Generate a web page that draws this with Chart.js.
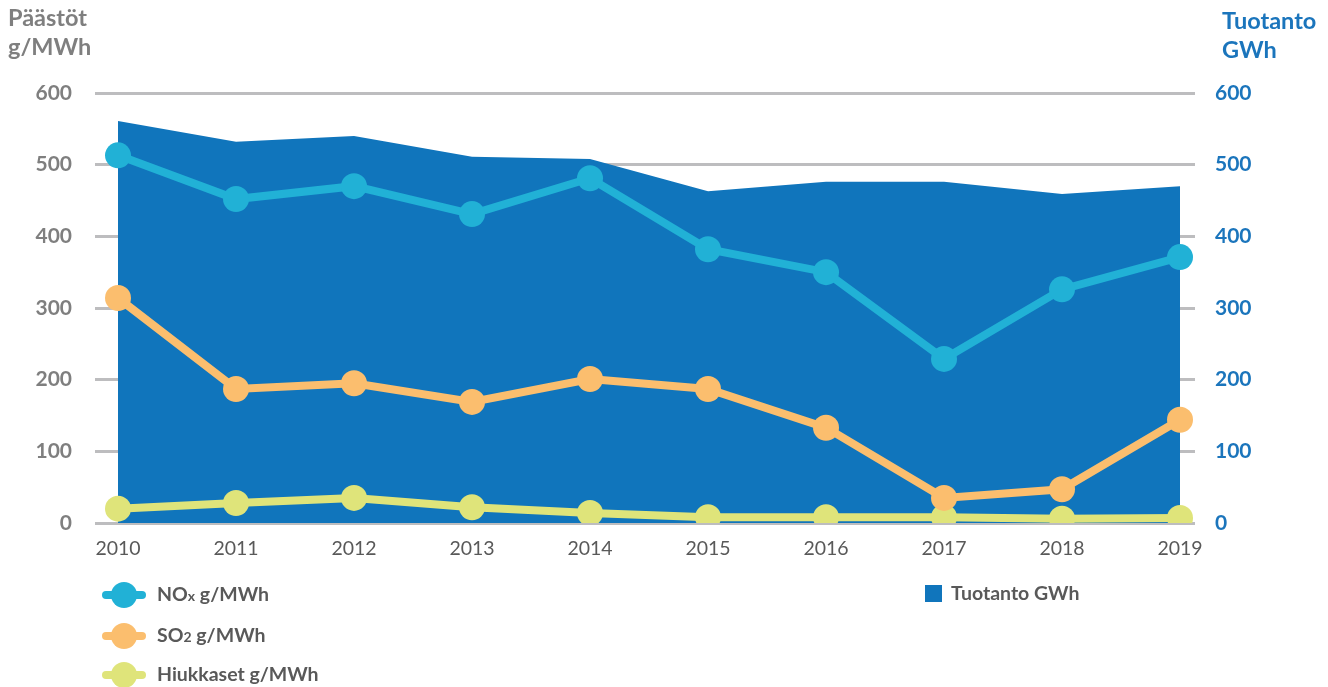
<!DOCTYPE html>
<html>
<head>
<meta charset="utf-8">
<script src="https://cdn.jsdelivr.net/npm/chart.js@4.4.0/dist/chart.umd.min.js"></script>
<style>
  html, body { margin: 0; padding: 0; background: #ffffff; }
  body { width: 1328px; height: 687px; position: relative; overflow: hidden; font-family: Lato, "Open Sans", sans-serif; }
  #c { position: absolute; left: 0; top: 0; }
  .ttl { position: absolute; font-weight: bold; font-size: 23.5px; line-height: 29px; }
  .leg { position: absolute; font-weight: bold; font-size: 19.5px; color: #595959; white-space: nowrap; }
  .leg small { font-size: 14px; }
  .ico { position: absolute; width: 44px; height: 26px; }
  .ico .ln { position: absolute; left: 0; top: 9px; width: 44px; height: 8px; border-radius: 4px; }
  .ico .dot { position: absolute; left: 9px; top: 0; width: 26px; height: 26px; border-radius: 50%; }
  .sq { position: absolute; width: 17px; height: 17px; background: #1075bc; }
</style>
</head>
<body>
<canvas id="c" width="1328" height="687"></canvas>
<div class="ttl" style="left:8px; top:3px; color:#7f7f7f;">Päästöt<br>g/MWh</div>
<div class="ttl" style="left:1222px; top:6px; color:#1b75bc;">Tuotanto<br>GWh</div>

<div class="ico" style="left:102px; top:582px;"><div class="ln" style="background:#21b1d6"></div><div class="dot" style="background:#21b1d6"></div></div>
<div class="leg" style="left:157px; top:582px;">NO<small>x</small> g/MWh</div>
<div class="ico" style="left:102px; top:623px;"><div class="ln" style="background:#fbbe6e"></div><div class="dot" style="background:#fbbe6e"></div></div>
<div class="leg" style="left:157px; top:623px;">SO<small>2</small> g/MWh</div>
<div class="ico" style="left:102px; top:662px;"><div class="ln" style="background:#dfe47a"></div><div class="dot" style="background:#dfe47a"></div></div>
<div class="leg" style="left:157px; top:662px;">Hiukkaset g/MWh</div>

<div class="sq" style="left:925px; top:585px;"></div>
<div class="leg" style="left:951px; top:581px;">Tuotanto GWh</div>

<script>
const years = [2010, 2011, 2012, 2013, 2014, 2015, 2016, 2017, 2018, 2019];
const tuotanto = [561, 532, 540, 511, 508, 463, 476, 476, 459, 470];
const nox = [513, 452, 470, 431, 481, 382, 350, 229, 326, 371];
const so2 = [314, 187, 195, 169, 201, 187, 133, 35, 47, 144];
const hiukkaset = [20, 28, 35, 22, 14, 8, 8, 8, 6, 7];
const yTicks = [0, 100, 200, 300, 400, 500, 600];

const pts = arr => arr.map((v, i) => ({ x: years[i], y: v }));

function lineDs(label, data, color) {
  return {
    type: 'line', label, data: pts(data), yAxisID: 'y',
    borderColor: color, backgroundColor: color, borderWidth: 8,
    pointRadius: 13, pointHoverRadius: 13, pointBorderWidth: 0,
    fill: false, tension: 0
  };
}

new Chart(document.getElementById('c'), {
  type: 'line',
  data: {
    datasets: [
      lineDs('NOx g/MWh', nox, '#21b1d6'),
      lineDs('SO2 g/MWh', so2, '#fbbe6e'),
      lineDs('Hiukkaset g/MWh', hiukkaset, '#dfe47a'),
      {
        type: 'line', label: 'Tuotanto GWh', data: pts(tuotanto), yAxisID: 'y2',
        borderWidth: 0, borderColor: '#1075bc', backgroundColor: '#1075bc',
        pointRadius: 0, fill: 'origin', tension: 0
      }
    ]
  },
  options: {
    responsive: false,
    animation: false,
    layout: { padding: { top: 93, left: 0, right: 0, bottom: 0 } },
    plugins: { legend: { display: false }, tooltip: { enabled: false } },
    scales: {
      x: {
        type: 'linear', min: 2009.805, max: 2019.127,
        grid: { display: false }, border: { display: false },
        afterBuildTicks: s => { s.ticks = years.map(v => ({ value: v })); },
        ticks: { callback: v => String(v), color: '#595959', font: { family: 'Lato', size: 19.5 }, padding: 6, maxRotation: 0 },
        afterFit: s => { s.height = 164; }
      },
      y: {
        position: 'left', min: 0, max: 600,
        afterBuildTicks: s => { s.ticks = yTicks.map(v => ({ value: v })); },
        grid: { color: '#bdbdbf', lineWidth: 3, drawTicks: false },
        border: { display: false },
        ticks: { color: '#7f7f7f', font: { family: 'Lato', size: 21, weight: 'bold' }, padding: 23 },
        afterFit: s => { s.width = 95; }
      },
      y2: {
        position: 'right', min: 0, max: 600,
        afterBuildTicks: s => { s.ticks = yTicks.map(v => ({ value: v })); },
        grid: { display: false, drawTicks: false },
        border: { display: false },
        ticks: { color: '#1b75bc', font: { family: 'Lato', size: 21, weight: 'bold' }, padding: 20 },
        afterFit: s => { s.width = 133; }
      }
    }
  }
});
</script>
</body>
</html>
